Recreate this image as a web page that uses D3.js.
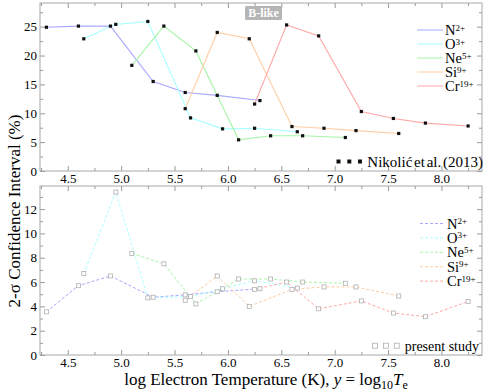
<!DOCTYPE html>
<html>
<head>
<meta charset="utf-8">
<script src="https://cdn.jsdelivr.net/npm/d3@7"></script>
<style>
  body { margin: 0; background: #fff; }
  svg text { font-family: "Liberation Serif", "Times New Roman", Times, serif; }
</style>
</head>
<body>
<svg id="chart" width="485" height="392"></svg>
<script>
// ion labels and colours
const ions = ["N", "O", "Ne", "Si", "Cr"];
const charges = ["2+", "3+", "5+", "9+", "19+"];
const ionColors = ["#a8a8ff", "#a8ffff", "#a8f5a8", "#ffcda3", "#ffa8a8"];

// log10 Te grid per ion
const tempN = [4.3, 4.6, 4.9, 5.3, 5.6, 5.9, 6.3];
const tempO = [4.65, 4.95, 5.25, 5.65, 5.95, 6.25, 6.65];
const tempNe = [5.1, 5.4, 5.7, 6.1, 6.4, 6.7, 7.1];
const tempSi = [5.6, 5.9, 6.2, 6.6, 6.9, 7.2, 7.6];
const tempCr = [6.25, 6.55, 6.85, 7.25, 7.55, 7.85, 8.25];

// Nikolic et al. (2013), 2-sigma CI (%)
const nikolicN = [24.9, 25.1, 25.1, 15.5, 13.6, 13.1, 12.2];
const nikolicO = [22.9, 25.4, 25.9, 9.2, 7.3, 7.4, 6.8];
const nikolicNe = [18.3, 25.1, 20.8, 5.4, 6.1, 6.1, 5.8];
const nikolicSi = [10.8, 24.0, 22.9, 7.7, 7.4, 7.0, 6.5];
const nikolicCr = [11.6, 25.3, 23.4, 10.3, 9.1, 8.3, 7.8];

// present study, 2-sigma CI (%)
const presentN = [3.55, 5.7, 6.5, 4.75, 4.95, 5.2, 5.45];
const presentO = [6.7, 13.4, 4.7, 4.8, 5.45, 6.1, 5.5];
const presentNe = [8.35, 7.5, 4.2, 6.25, 6.25, 6.0, 5.9];
const presentSi = [4.5, 6.5, 4.0, 5.4, 5.6, 5.6, 4.85];
const presentCr = [5.4, 6.0, 3.8, 4.45, 3.45, 3.15, 4.4];

const xTicks = [4.5, 5.0, 5.5, 6.0, 6.5, 7.0, 7.5, 8.0];
const yTicksTop = [0, 5, 10, 15, 20, 25];
const yTicksBottom = [0, 2, 4, 6, 8, 10, 12];

const temps = [tempN, tempO, tempNe, tempSi, tempCr];
const nikolic = [nikolicN, nikolicO, nikolicNe, nikolicSi, nikolicCr];
const present = [presentN, presentO, presentNe, presentSi, presentCr];

const FONT = '"Liberation Serif", "Times New Roman", Times, serif';
const svg = d3.select("#chart").attr("font-family", FONT);
const left = 40, right = 482;

const x = d3.scaleLinear().domain([4.24, 8.38]).range([left, right]);
const yTop = d3.scaleLinear().domain([0, 29.1]).range([171, 3]);
const yBot = d3.scaleLinear().domain([0, 13.9]).range([355, 186]);

function drawFrame(y, yTicks, yMinorStep, labelPad) {
    const [y0, y1] = y.range();
    const g = svg.append("g");
    const minorX = d3.range(4.25, 8.4, 0.25).filter(v => !xTicks.some(t => Math.abs(t - v) < 1e-6));
    const dMax = y.domain()[1];
    const minorY = d3.range(0, dMax, yMinorStep).filter(v => !yTicks.some(t => Math.abs(t - v) < 1e-6));

    const axes = [
        [d3.axisBottom(x).tickValues(xTicks).tickFormat(d3.format(".1f")), `translate(0,${y0})`, true],
        [d3.axisBottom(x).tickValues(minorX).tickFormat(""), `translate(0,${y0})`, false],
        [d3.axisTop(x).tickValues(xTicks).tickFormat(""), `translate(0,${y1})`, true],
        [d3.axisTop(x).tickValues(minorX).tickFormat(""), `translate(0,${y1})`, false],
        [d3.axisLeft(y).tickValues(yTicks).tickFormat(d3.format("d")), `translate(${left},0)`, true],
        [d3.axisLeft(y).tickValues(minorY).tickFormat(""), `translate(${left},0)`, false],
        [d3.axisRight(y).tickValues(yTicks).tickFormat(""), `translate(${right},0)`, true],
        [d3.axisRight(y).tickValues(minorY).tickFormat(""), `translate(${right},0)`, false]
    ];
    axes.forEach(([axis, tr, major]) => {
        const a = g.append("g")
            .attr("transform", tr)
            .call(axis.tickSizeInner(major ? -5 : -3).tickSizeOuter(0).tickPadding(labelPad));
        a.attr("font-family", FONT).attr("font-size", 13);
        a.select(".domain").remove();
        a.selectAll("line").attr("stroke", "#9a9a9a");
        a.selectAll("text").attr("fill", "#000");
    });
    g.append("rect")
        .attr("x", left).attr("y", y1)
        .attr("width", right - left).attr("height", y0 - y1)
        .attr("fill", "none").attr("stroke", "#a8a8a8").attr("stroke-width", 1);
}

drawFrame(yTop, yTicksTop, 2.5, 3);
drawFrame(yBot, yTicksBottom, 1, 3);

const lineTop = d3.line().x(d => x(d[0])).y(d => yTop(d[1]));
const lineBot = d3.line().x(d => x(d[0])).y(d => yBot(d[1]));

// top panel: Nikolic et al.
ions.forEach((ion, i) => {
    const pts = temps[i].map((t, j) => [t, nikolic[i][j]]);
    svg.append("path").attr("d", lineTop(pts))
        .attr("fill", "none").attr("stroke", ionColors[i]).attr("stroke-width", 1.1);
});
ions.forEach((ion, i) => {
    const pts = temps[i].map((t, j) => [t, nikolic[i][j]]);
    svg.append("g").selectAll("rect").data(pts).enter().append("rect")
        .attr("x", d => x(d[0]) - 1.6).attr("y", d => yTop(d[1]) - 1.6)
        .attr("width", 3.2).attr("height", 3.2).attr("fill", "#111");
});

// bottom panel: present study
ions.forEach((ion, i) => {
    const pts = temps[i].map((t, j) => [t, present[i][j]]);
    svg.append("path").attr("d", lineBot(pts))
        .attr("fill", "none").attr("stroke", ionColors[i]).attr("stroke-width", 1)
        .attr("stroke-dasharray", "3,2");
});
ions.forEach((ion, i) => {
    const pts = temps[i].map((t, j) => [t, present[i][j]]);
    svg.append("g").selectAll("rect").data(pts).enter().append("rect")
        .attr("x", d => x(d[0]) - 2).attr("y", d => yBot(d[1]) - 2)
        .attr("width", 4).attr("height", 4)
        .attr("fill", "#fff").attr("stroke", "#b0b0b0").attr("stroke-width", 0.8);
});

// legends
function ionLegend(x0, x1, yStart, step, dashed) {
    ions.forEach((ion, i) => {
        const yy = yStart + i * step;
        svg.append("line")
            .attr("x1", x0).attr("x2", x1).attr("y1", yy).attr("y2", yy)
            .attr("stroke", ionColors[i]).attr("stroke-width", 1)
            .attr("stroke-dasharray", dashed ? "3,2" : null);
        const t = svg.append("text")
            .attr("x", x1 + 2).attr("y", yy + 5)
            .attr("font-size", 14.5);
        t.append("tspan").text(ion);
        t.append("tspan").attr("dy", -4.5).attr("font-size", 9).text(charges[i]);
    });
}
ionLegend(417, 443, 30, 14, false);
ionLegend(420, 445, 223.5, 14.4, true);

// Nikolic legend
svg.append("g").selectAll("rect").data([338.5, 349.3, 360]).enter().append("rect")
    .attr("x", d => d - 2).attr("y", 159.5).attr("width", 4).attr("height", 4).attr("fill", "#111");
svg.append("text").attr("x", 483).attr("y", 166.5).attr("text-anchor", "end")
    .attr("font-size", 15).attr("word-spacing", -2).text("Nikolić et al. (2013)");

// present study legend
svg.append("g").selectAll("rect").data([375, 386, 396.7]).enter().append("rect")
    .attr("x", d => d - 2.5).attr("y", 343.2).attr("width", 5).attr("height", 5)
    .attr("fill", "#fff").attr("stroke", "#b0b0b0").attr("stroke-width", 0.8);
svg.append("text").attr("x", 479).attr("y", 350.5).attr("text-anchor", "end")
    .attr("font-size", 14).text("present study");

// B-like tag
svg.append("rect").attr("x", 245).attr("y", 6).attr("width", 37).attr("height", 14)
    .attr("rx", 1.5).attr("fill", "#b5b5b5");
svg.append("text").attr("x", 263.5).attr("y", 17).attr("text-anchor", "middle")
    .attr("fill", "#fff").attr("font-size", 12).attr("font-weight", "bold").text("B-like");

// axis titles
svg.append("text")
    .attr("transform", "translate(20,211) rotate(-90)")
    .attr("text-anchor", "middle")
    .attr("font-size", 17)
    .text("2-σ Confidence Interval (%)");

const xt = svg.append("text").attr("x", 266).attr("y", 385).attr("text-anchor", "middle")
    .attr("font-size", 17);
xt.append("tspan").text("log Electron Temperature (K), ");
xt.append("tspan").attr("font-style", "italic").text("y");
xt.append("tspan").text(" = log");
xt.append("tspan").attr("dy", 4).attr("font-size", 12).text("10");
xt.append("tspan").attr("dy", -4).attr("font-style", "italic").text("T");
xt.append("tspan").attr("dy", 4).attr("font-size", 12).text("e");
</script>
</body>
</html>
